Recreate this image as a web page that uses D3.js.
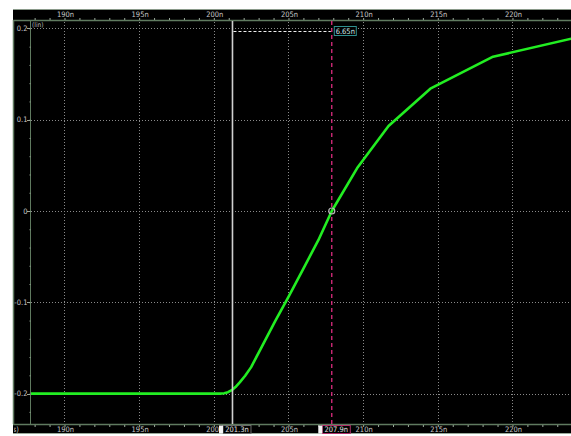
<!DOCTYPE html>
<html>
<head>
<meta charset="utf-8">
<script src="https://cdn.jsdelivr.net/npm/d3@7"></script>
<style>
  html, body { margin: 0; padding: 0; background: #fff; }
  svg { display: block; }
  text { font-family: "DejaVu Sans Condensed", "Liberation Sans", sans-serif; }
</style>
</head>
<body>
<svg id="chart" width="571" height="436"></svg>
<script>
// Waveform samples: time (ns) and level (lin)
const timeNs = [187.7, 200.4, 200.7, 200.95, 201.2, 201.45, 201.75, 202.1, 202.5, 203.2, 204.1, 205.0, 206.0, 207.0, 207.9, 209.6, 211.7, 214.5, 218.7, 224.0];
const level  = [-0.2, -0.2, -0.1996, -0.1985, -0.1962, -0.1928, -0.1875, -0.1805, -0.171, -0.149, -0.121, -0.094, -0.063, -0.032, 0.0, 0.047, 0.093, 0.134, 0.169, 0.189];

// Axis ticks
const xMajorTicks = [190, 195, 200, 205, 210, 215, 220];
const xTickLabels = ["190n", "195n", "200n", "205n", "210n", "215n", "220n"];
const yMajorTicks = [0.2, 0.1, 0, -0.1, -0.2];
const yTickLabels = ["0.2", "0.1", "0", "-0.1", "-0.2"];

// Cursors (ns) and their readouts
const cursorA = 201.25;
const cursorB = 207.9;
const cursorLabels = ["201.3n", "207.9n"];
const deltaLabel = "6.65n";
const crossingLevel = 0;

const svg = d3.select("#chart");
const W = 571, H = 436;
const pL = 30, pR = 571, pT = 20, pB = 424, frameLeft = 13;

const x = d3.scaleLinear().domain([187.69, 223.92]).range([pL, pR]);
const y = d3.scaleLinear().domain([-0.2, 0.2]).range([393.6, 28.4]);

const frameCol = "#5f7a5f";
const labelCol = "#c8c8c8";

// Black backdrop for plot and axis bands
svg.append("rect").attr("x", frameLeft).attr("y", 9).attr("width", W - frameLeft).attr("height", 424)
  .attr("fill", "#000");

// Frame lines
svg.append("line").attr("x1", frameLeft).attr("x2", W).attr("y1", 9.5).attr("y2", 9.5).attr("stroke", "#8a9a8a").attr("stroke-width", 1);
svg.append("line").attr("x1", frameLeft).attr("x2", W).attr("y1", pT + 0.5).attr("y2", pT + 0.5).attr("stroke", frameCol).attr("stroke-width", 1.5);
svg.append("line").attr("x1", frameLeft).attr("x2", W).attr("y1", pB + 0.5).attr("y2", pB + 0.5).attr("stroke", frameCol).attr("stroke-width", 1.5);
svg.append("line").attr("x1", frameLeft).attr("x2", W).attr("y1", 433.5).attr("y2", 433.5).attr("stroke", "#9aaa9a").attr("stroke-width", 1);
svg.append("line").attr("x1", frameLeft + 0.5).attr("x2", frameLeft + 0.5).attr("y1", pT).attr("y2", pB).attr("stroke", frameCol).attr("stroke-width", 1.5);
svg.append("line").attr("x1", pL + 0.5).attr("x2", pL + 0.5).attr("y1", pT).attr("y2", pB).attr("stroke", frameCol).attr("stroke-width", 1);

// Dotted grid
const grid = svg.append("g").attr("stroke", "#8a8a8a").attr("stroke-width", 1).attr("stroke-dasharray", "1,2");
grid.selectAll("line.v").data(xMajorTicks).join("line").attr("class", "v")
  .attr("x1", d => Math.round(x(d)) + 0.5).attr("x2", d => Math.round(x(d)) + 0.5)
  .attr("y1", pT + 2).attr("y2", pB);
grid.selectAll("line.h").data(yMajorTicks).join("line").attr("class", "h")
  .attr("x1", pL + 1).attr("x2", pR)
  .attr("y1", d => Math.round(y(d)) + 0.5).attr("y2", d => Math.round(y(d)) + 0.5);

// Top time axis
const minorX = d3.range(188, 224, 1);
const topAxis = d3.axisTop(x).tickValues(minorX).tickSize(2).tickFormat("");
svg.append("g").attr("transform", `translate(0,${pT})`).call(topAxis)
  .call(g => g.select(".domain").remove())
  .call(g => g.selectAll("line").attr("stroke", "#9aa89a"));
svg.append("g").selectAll("text").data(xMajorTicks).join("text")
  .attr("x", d => x(d) + 1).attr("y", 17)
  .attr("text-anchor", "middle").attr("font-size", 7.5).attr("fill", labelCol)
  .text((d, i) => xTickLabels[i]);

// Bottom time axis
const botAxis = d3.axisBottom(x).tickValues(minorX).tickSize(2).tickFormat("");
svg.append("g").attr("transform", `translate(0,${pB + 1})`).call(botAxis)
  .call(g => g.select(".domain").remove())
  .call(g => g.selectAll("line").attr("stroke", "#9aa89a"));
svg.append("g").selectAll("text").data(xMajorTicks).join("text")
  .attr("x", d => x(d) + 1).attr("y", 432)
  .attr("text-anchor", "middle").attr("font-size", 7.5).attr("fill", labelCol)
  .text((d, i) => xTickLabels[i]);
// Unit label, clipped at the frame edge
svg.append("clipPath").attr("id", "unitClip").append("rect")
  .attr("x", frameLeft + 1).attr("y", 424).attr("width", 20).attr("height", 10);
svg.append("text").attr("clip-path", "url(#unitClip)")
  .attr("x", 19).attr("y", 432).attr("text-anchor", "end").attr("font-size", 7.5).attr("fill", labelCol).text("(s)");

// Left level axis
const minorY = d3.range(-0.22, 0.2001, 0.02);
const leftAxis = d3.axisRight(y).tickValues(minorY).tickSize(1).tickFormat("");
svg.append("g").attr("transform", `translate(${pL - 0.5},0)`).call(leftAxis)
  .call(g => g.select(".domain").remove())
  .call(g => g.selectAll("line").attr("stroke", "#9aa89a"));
svg.append("g").selectAll("line").data(yMajorTicks).join("line")
  .attr("x1", pL - 3).attr("x2", pL)
  .attr("y1", d => Math.round(y(d)) + 0.5).attr("y2", d => Math.round(y(d)) + 0.5)
  .attr("stroke", "#9aa89a");
svg.append("g").selectAll("text").data(yMajorTicks).join("text")
  .attr("x", 27.5).attr("y", d => y(d) + 2.5)
  .attr("text-anchor", "end").attr("font-size", 7.5).attr("fill", labelCol)
  .text((d, i) => yTickLabels[i]);
svg.append("text").attr("x", 32).attr("y", 27).attr("font-size", 6.5).attr("fill", "#bbbbbb").text("(lin)");

// Plot clip
svg.append("clipPath").attr("id", "plotClip").append("rect")
  .attr("x", pL + 1).attr("y", pT + 1).attr("width", pR - pL).attr("height", pB - pT - 1);

// Cursor B (dashed magenta)
svg.append("line")
  .attr("x1", x(cursorB)).attr("x2", x(cursorB)).attr("y1", pT + 1).attr("y2", pB)
  .attr("stroke", "#f0308a").attr("stroke-width", 1.2).attr("stroke-dasharray", "4,3");

// Waveform
const pts = timeNs.map((t, i) => [t, level[i]]);
svg.append("path").datum(pts)
  .attr("clip-path", "url(#plotClip)")
  .attr("fill", "none").attr("stroke", "#22ee22").attr("stroke-width", 2.6)
  .attr("stroke-linejoin", "round")
  .attr("d", d3.line().x(d => x(d[0])).y(d => y(d[1])));

// Cursor A (solid light grey)
svg.append("line")
  .attr("x1", x(cursorA)).attr("x2", x(cursorA)).attr("y1", pT + 1).attr("y2", pB)
  .attr("stroke", "#d0d0d0").attr("stroke-width", 1.6);

// Crossing marker
svg.append("circle").attr("cx", x(cursorB)).attr("cy", y(crossingLevel)).attr("r", 3)
  .attr("fill", "none").attr("stroke", "#b8b8b8").attr("stroke-width", 1.2);

// Delta measurement
svg.append("line")
  .attr("x1", x(cursorA) + 1).attr("x2", x(cursorB) - 1).attr("y1", 31.5).attr("y2", 31.5)
  .attr("stroke", "#f0f0f0").attr("stroke-width", 1).attr("stroke-dasharray", "3,2");
svg.append("rect").attr("x", x(cursorB) + 2.5).attr("y", 26.5).attr("width", 22).attr("height", 9)
  .attr("fill", "#000").attr("stroke", "#2f8f8f").attr("stroke-width", 1);
svg.append("text").attr("x", x(cursorB) + 13.5).attr("y", 34).attr("text-anchor", "middle")
  .attr("font-size", 7.5).attr("fill", "#cfe8e8").text(deltaLabel);

// Cursor readouts on the bottom axis
const readouts = [
  { t: cursorA, label: cursorLabels[0], border: "#6a6a6a" },
  { t: cursorB, label: cursorLabels[1], border: "#b0306a" }
];
readouts.forEach(r => {
  const cx = x(r.t);
  const bx = cx - 9.5;
  svg.append("rect").attr("x", bx).attr("y", 425.5).attr("width", 28).attr("height", 8)
    .attr("fill", "#000").attr("stroke", r.border).attr("stroke-width", 1);
  svg.append("rect").attr("x", bx - 4).attr("y", 425.5).attr("width", 4).attr("height", 8)
    .attr("fill", "#f4f4f4");
  svg.append("text").attr("x", bx + 14).attr("y", 432).attr("text-anchor", "middle")
    .attr("font-size", 7.5).attr("fill", "#e0e0e0").text(r.label);
});
</script>
</body>
</html>
